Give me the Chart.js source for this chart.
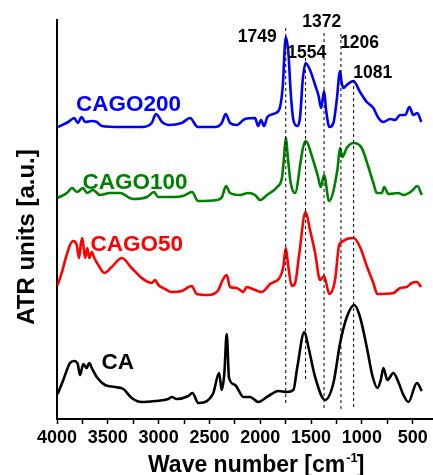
<!DOCTYPE html>
<html>
<head>
<meta charset="utf-8">
<script src="https://cdn.jsdelivr.net/npm/chart.js@4.4.1/dist/chart.umd.min.js"></script>
<style>
  html, body { margin: 0; padding: 0; background: #ffffff; }
  #wrap { position: relative; width: 433px; height: 475px; }
</style>
</head>
<body>
<div id="wrap"><canvas id="c" width="433" height="475"></canvas></div>
<script>
// ---------- DATA (wavenumber in cm^-1, ATR signal in arbitrary stacked units) ----------
const seriesNames = ['CAGO200', 'CAGO100', 'CAGO50', 'CA'];

const waveCAGO200 = [3990,3890,3830,3796,3757,3724,3658,3609,3560,3363,3166,3068,3026,2967,2904,2773,2690,2615,2445,2379,2340,2297,2231,2150,2051,2022,1992,1962,1930,1846,1805,1779,1749,1723,1700,1674,1635,1608,1582,1554,1510,1460,1428,1401,1372,1352,1320,1280,1247,1215,1200,1182,1149,1083,1018,952,887,837,788,722,673,624,574,532,493,454,415];
const absCAGO200  = [291,296,300,295,301,296,297,296,292,291,291,295,304,296,293,295,300,291,291,295,304,295,293,299,300,292,298,292,301,305,311,331,381,365,325,298,292,301,338,355,348,333,323,310,327,308,291,295,318,347,336,330,333,337,326,316,310,300,296,299,298,303,303,311,303,305,296];

const waveCAGO100 = [3995,3902,3852,3803,3744,3705,3646,3577,3478,3380,3252,3114,3045,3006,2858,2760,2671,2612,2425,2376,2337,2297,2199,2120,2051,2002,1933,1834,1785,1766,1749,1726,1700,1657,1600,1580,1554,1480,1431,1404,1372,1323,1241,1215,1192,1149,1081,1001,936,887,853,804,781,739,641,591,509,454,410];
const absCAGO100  = [220,225,230,226,230,225,228,223,225,225,219,221,226,221,221,222,226,217,218,221,232,225,223,225,223,218,223,231,241,261,280,258,235,225,258,270,277,258,241,231,243,217,248,270,261,270,275,270,251,235,225,225,231,224,225,223,227,232,223];

const waveCAGO50 = [3993,3954,3905,3872,3840,3806,3783,3764,3751,3724,3702,3682,3658,3633,3594,3534,3462,3363,3265,3166,3068,3035,3003,2937,2871,2773,2674,2625,2511,2412,2379,2330,2297,2231,2166,2133,2051,1985,1903,1805,1773,1749,1723,1690,1657,1615,1554,1510,1460,1411,1372,1320,1264,1224,1198,1148,1081,1018,952,887,847,690,624,558,509,459,417];
const absCAGO50  = [133,145,163,173,177,173,160,175,180,160,170,160,166,160,153,145,151,160,150,140,135,138,133,129,126,127,132,124,123,128,136,143,131,130,126,131,128,126,134,141,151,170,151,132,135,165,206,188,165,138,142,124,138,173,176,179,180,171,152,135,124,125,130,131,135,136,131];

const waveCA = [3993,3938,3872,3830,3796,3774,3741,3708,3682,3658,3609,3528,3429,3347,3265,3166,3035,2904,2871,2822,2708,2668,2609,2543,2462,2405,2379,2353,2330,2307,2248,2166,2100,2019,1920,1822,1739,1674,1635,1566,1526,1460,1362,1280,1214,1148,1074,1018,952,893,847,814,788,749,690,641,591,542,459,410];
const absCA  = [24,38,55,57,54,43,54,50,55,50,41,33,31,29,20,16,17,19,21,19,22,25,15,16,25,45,28,45,84,40,33,21,21,16,22,27,26,28,51,86,71,41,18,35,75,101,113,101,71,41,30,38,50,38,45,36,23,16,35,27];

// marked band positions (dashed guide lines) and their vertical extents
const peakWaves  = [1749, 1554, 1372, 1206, 1081];
const peakLabels = ['1749', '1554', '1372', '1206', '1081'];
const peakTop    = [390, 360, 385, 384, 338];
const peakBottom = [15, 38, 10, 9, 9];

// x tick values (labelled every 500)
const xTickValues = [4000,3750,3500,3250,3000,2750,2500,2250,2000,1750,1500,1250,1000,750,500];
const xTickLabels = ['4000','','3500','','3000','','2500','','2000','','1500','','1000','','500'];

// ---------- CHART ----------
const FONT = "'Liberation Sans', Arial, Helvetica, sans-serif";
const colors = ['#0000ff', '#008000', '#ff0000', '#000000'];
const waves = [waveCAGO200, waveCAGO100, waveCAGO50, waveCA];
const vals  = [absCAGO200, absCAGO100, absCAGO50, absCA];

const datasets = [];
peakWaves.forEach((w, i) => {
  datasets.push({
    label: 'guide ' + peakLabels[i],
    data: [{x: w, y: peakTop[i]}, {x: w, y: peakBottom[i]}],
    borderColor: '#000000',
    borderWidth: 1,
    borderDash: [3, 3],
    pointRadius: 0,
    fill: false,
    tension: 0
  });
});
seriesNames.forEach((n, i) => {
  datasets.push({
    label: n,
    data: waves[i].map((w, k) => ({x: w, y: vals[i][k]})),
    borderColor: colors[i],
    borderWidth: 2.6,
    pointRadius: 0,
    fill: false,
    cubicInterpolationMode: 'monotone'
  });
});

// text positions (pixels) for the labels
const seriesLabelPos = [
  {x: 76,  y: 111},
  {x: 82.5, y: 188.5},
  {x: 90.5, y: 251},
  {x: 101.5, y: 369}
];
const peakLabelOffset = [
  {dx: -48, y: 41.7},
  {dx: -18.2, y: 58.3},
  {dx: -21.7, y: 27.3},
  {dx: -0.8, y: 47.7},
  {dx: -0.3, y: 78.3}
];

const textPlugin = {
  id: 'textPlugin',
  afterDatasetsDraw(chart) {
    const ctx = chart.ctx;
    const xs = chart.scales.x;
    ctx.save();
    ctx.textBaseline = 'alphabetic';
    ctx.textAlign = 'left';
    // series names
    ctx.font = 'bold 22.5px ' + FONT;
    seriesNames.forEach((n, i) => {
      ctx.fillStyle = colors[i];
      ctx.fillText(n, seriesLabelPos[i].x, seriesLabelPos[i].y);
    });
    // band labels
    ctx.fillStyle = '#000000';
    ctx.font = 'bold 17.5px ' + FONT;
    peakWaves.forEach((w, i) => {
      const px = xs.getPixelForValue(w);
      ctx.fillText(peakLabels[i], px + peakLabelOffset[i].dx, peakLabelOffset[i].y);
    });
    // x axis title with superscript
    ctx.font = 'bold 23px ' + FONT;
    const main = 'Wave number [cm';
    let x0 = 148;
    ctx.fillText(main, x0, 472);
    x0 += ctx.measureText(main).width + 1;
    ctx.font = 'bold 13px ' + FONT;
    ctx.fillText('-1', x0, 462);
    x0 += ctx.measureText('-1').width - 1;
    ctx.font = 'bold 23px ' + FONT;
    ctx.fillText(']', x0, 472);
    // y axis title
    ctx.font = 'bold 24px ' + FONT;
    ctx.translate(34, 237);
    ctx.rotate(-Math.PI / 2);
    ctx.textAlign = 'center';
    ctx.fillText('ATR units [a.u.]', 0, 0);
    ctx.restore();
  }
};

new Chart(document.getElementById('c'), {
  type: 'line',
  data: { datasets },
  options: {
    responsive: false,
    animation: false,
    devicePixelRatio: 1,
    layout: { padding: { left: 0, right: 0, top: 20, bottom: 0 } },
    plugins: { legend: { display: false }, tooltip: { enabled: false } },
    scales: {
      x: {
        type: 'linear',
        reverse: true,
        min: 300,
        max: 4000,
        afterBuildTicks(scale) { scale.ticks = xTickValues.map(v => ({value: v})); },
        afterFit(scale) { scale.height = 56; },
        ticks: {
          autoSkip: false,
          maxRotation: 0,
          padding: 3,
          color: '#000000',
          font: { family: FONT, size: 18, weight: 'bold' },
          callback(value) {
            const k = xTickValues.indexOf(value);
            return k >= 0 ? xTickLabels[k] : '';
          }
        },
        grid: {
          drawOnChartArea: false,
          drawTicks: true,
          tickLength: 5,
          tickColor: '#000000',
          tickWidth: 1.5
        },
        border: { display: true, color: '#000000', width: 2 },
        title: { display: false }
      },
      y: {
        type: 'linear',
        min: -1,
        max: 398,
        afterBuildTicks(scale) {
          scale.ticks = scale.ticks.filter(t => t.value % 50 === 0);
        },
        afterFit(scale) { scale.width = 57; },
        ticks: { stepSize: 50, display: true, callback() { return ''; }, padding: 0 },
        grid: {
          drawOnChartArea: false,
          drawTicks: true,
          tickLength: 3,
          tickColor: '#000000',
          tickWidth: 1.5
        },
        border: { display: true, color: '#000000', width: 2 },
        title: { display: false }
      }
    }
  },
  plugins: [textPlugin]
});
</script>
</body>
</html>
